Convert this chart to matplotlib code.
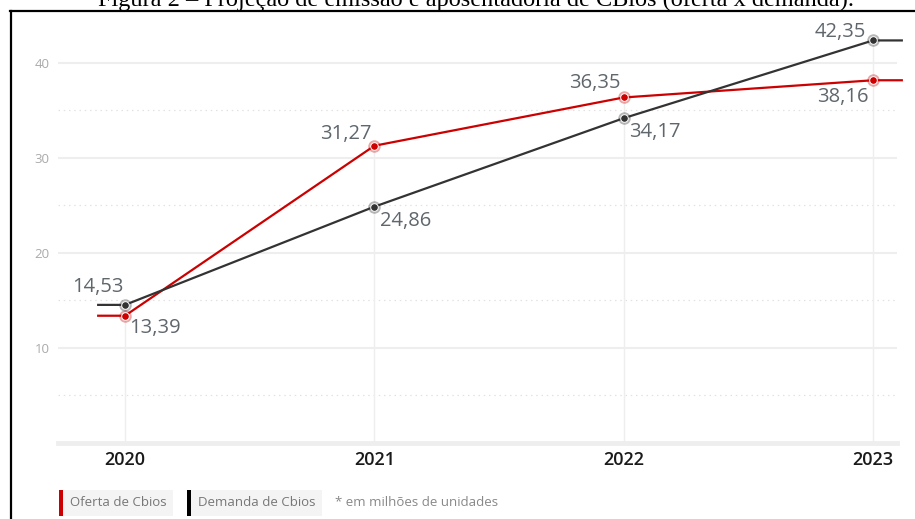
import matplotlib.pyplot as plt
from matplotlib.lines import Line2D
from matplotlib.patches import Rectangle

years = [2020, 2021, 2022, 2023]
oferta = [13.39, 31.27, 36.35, 38.16]
demanda = [14.53, 24.86, 34.17, 42.35]
oferta_lbl = ["13,39", "31,27", "36,35", "38,16"]
demanda_lbl = ["14,53", "24,86", "34,17", "42,35"]
yticks = [10, 20, 30, 40]

# label offsets in pixels (x, y up)
off_oferta = [(30, -12), (-29, 12), (-29, 14), (-30, -17)]
off_demanda = [(-27, 18), (31, -14), (31, -14), (-33, 8)]

red = "#cc0000"
dark = "#333333"
txt_grey = "#5f676d"

fig = plt.figure(figsize=(9.15, 5.19), dpi=100)
ax = fig.add_axes([58/915, 76/519, 839/915, 423/519])
ax.set_xlim(2020 - 67/249.3, 2023 + 24/249.3)
ax.set_ylim(0, 44.5)

for s in ax.spines.values():
    s.set_visible(False)

# grid
for v in yticks:
    ax.axhline(v, color="#eeeeee", lw=1.5, zorder=0)
for v in [5, 15, 25, 35]:
    ax.axhline(v, color="#e2e2e2", lw=0.9, ls=(0, (1.2, 3)), zorder=0)
ax.axhline(0, color="#eeeeee", lw=3.5, zorder=0, clip_on=False)
ax.vlines(years, 0, [max(a, b) for a, b in zip(oferta, demanda)], color="#eeeeee", lw=1, zorder=0)

def serie(vals, color, labels, offs):
    xs = [years[0] - 0.112] + years + [years[-1] + 0.12]
    ys = [vals[0]] + vals + [vals[-1]]
    ax.plot(xs, ys, color=color, lw=1.6, zorder=3, clip_on=False, solid_capstyle="butt")
    ax.plot(years, vals, "o", ms=9, mfc=color, mec="none", alpha=0.35, zorder=4)
    ax.plot(years, vals, "o", ms=5.5, mfc=color, mec="white", mew=0.7, zorder=5)
    for x, y, t, o in zip(years, vals, labels, offs):
        ax.annotate(t, (x, y), xytext=o, textcoords="offset pixels", ha="center", va="center",
                    fontsize=14.5, color=txt_grey, family="Open Sans", zorder=6)

serie(oferta, red, oferta_lbl, off_oferta)
serie(demanda, dark, demanda_lbl, off_demanda)

ax.set_xticks(years)
ax.set_xticklabels([str(y) for y in years], fontsize=13, color="#1a1a1a", family="Open Sans",
                   fontweight="semibold")
ax.set_yticks(yticks)
ax.set_yticklabels([str(v) for v in yticks], fontsize=9.5, color="#aaaaaa", family="Open Sans")
ax.tick_params(length=0)
ax.tick_params(axis="x", pad=6)
ax.tick_params(axis="y", pad=6)

# legend boxes
W, H = 915, 519
def legend_item(x0, x1, color, text):
    fig.patches.append(Rectangle((x0/W, 1 - 516/H), (x1 - x0)/W, 26/H, transform=fig.transFigure,
                                 facecolor="#f4f4f4", edgecolor="none"))
    fig.patches.append(Rectangle((x0/W, 1 - 516/H), 4/W, 26/H, transform=fig.transFigure,
                                 facecolor=color, edgecolor="none"))
    fig.text((x0 + 11)/W, 1 - 503/H, text, fontsize=9.5, color="#777777", va="center", family="Open Sans")

legend_item(59, 173, red, "Oferta de Cbios")
legend_item(187, 322, "#000000", "Demanda de Cbios")
fig.text(335/W, 1 - 503/H, "* em milhões de unidades", fontsize=9.5, color="#888888", va="center",
         family="Open Sans")

# frame and cut caption
fig.add_artist(Line2D([10/W, 1], [1 - 11/H, 1 - 11/H], color="black", lw=1.6, transform=fig.transFigure))
fig.add_artist(Line2D([11/W, 11/W], [0, 1 - 11/H], color="black", lw=1.6, transform=fig.transFigure))
fig.text(476/W, 1 - 6/H, "Figura 2 – Projeção de emissão e aposentadoria de CBios (oferta x demanda).",
         ha="center", va="baseline", fontsize=17.5, family="Liberation Serif", color="black")

fig.savefig("out.png", dpi=100)
